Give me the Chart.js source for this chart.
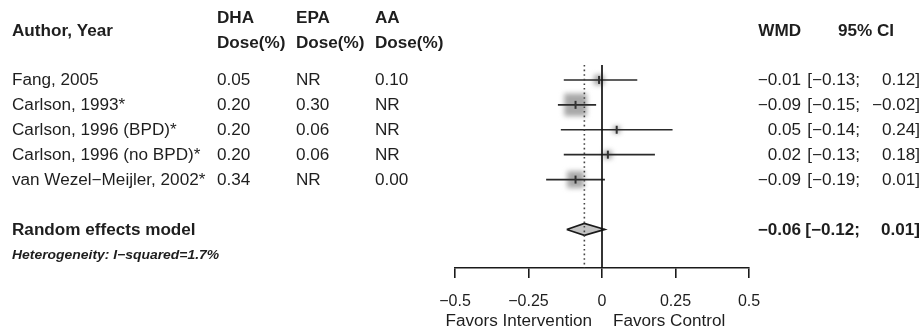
<!DOCTYPE html>
<html>
<head>
<meta charset="utf-8">
<script src="https://cdn.jsdelivr.net/npm/chart.js@4.4.1/dist/chart.umd.min.js"></script>
<style>
  html, body { margin: 0; padding: 0; background: #ffffff; }
  #wrap { width: 922px; height: 330px; position: relative; }
  canvas { display: block; }
</style>
</head>
<body>
<div id="wrap"><canvas id="forest" width="922" height="330"></canvas></div>
<script>
// Study rows
const studies = ['Fang, 2005', 'Carlson, 1993*', 'Carlson, 1996 (BPD)*', 'Carlson, 1996 (no BPD)*', 'van Wezel\u2212Meijler, 2002*'];
const dhaDose = ['0.05', '0.20', '0.20', '0.20', '0.34'];
const epaDose = ['NR', '0.30', '0.06', '0.06', 'NR'];
const aaDose  = ['0.10', 'NR', 'NR', 'NR', '0.00'];
const wmd     = [-0.01, -0.09, 0.05, 0.02, -0.09];
const ciLower = [-0.13, -0.15, -0.14, -0.13, -0.19];
const ciUpper = [0.12, -0.02, 0.24, 0.18, 0.01];
const weights = [10, 50, 5, 7, 28];

// Pooled estimate
const pooledLabel = 'Random effects model';
const pooledWmd = -0.06;
const pooledLower = -0.12;
const pooledUpper = 0.01;
const heterogeneityText = 'Heterogeneity: I\u2212squared=1.7%';

// Axis
const tickValues = [-0.5, -0.25, 0, 0.25, 0.5];
const tickLabels = ['\u22120.5', '\u22120.25', '0', '0.25', '0.5'];
const favorsLeft = 'Favors Intervention';
const favorsRight = 'Favors Control';

// Layout constants (row index units on the hidden y scale)
const POOLED_ROW = 6;
const HET_ROW = 7;
const Y_TOP = -0.6;
const Y_BOTTOM = 7.55;
const DIAMOND_HALF = 0.24;
const FONT = '"Liberation Sans", Arial, Helvetica, sans-serif';
const TEXT_COLOR = '#1e1e1e';
const STRETCH = 1.07;

const fmt = v => v.toFixed(2).replace('-', '\u2212');

// Datasets
const datasets = [];

// weighted squares
datasets.push({
  id: 'squares',
  data: wmd.map((v, i) => ({ x: v, y: i })),
  showLine: false,
  pointStyle: 'rect',
  pointRadius: weights.map(w => Math.sqrt(w) * 1.6 * Math.SQRT2),
  pointBackgroundColor: '#a8a8a8',
  pointBorderColor: '#a8a8a8',
  pointBorderWidth: 0,
  order: 10
});

// confidence interval segments
wmd.forEach((v, i) => {
  datasets.push({
    data: [{ x: ciLower[i], y: i }, { x: ciUpper[i], y: i }],
    showLine: true,
    borderColor: '#2a2a2a',
    borderWidth: 1.6,
    pointRadius: 0,
    order: 5
  });
});

// point estimate marks
datasets.push({
  data: wmd.map((v, i) => ({ x: v, y: i })),
  showLine: false,
  pointStyle: 'line',
  rotation: 90,
  pointRadius: 4,
  pointBorderColor: '#333333',
  pointBorderWidth: 2,
  order: 4
});

// pooled diamond
datasets.push({
  data: [
    { x: pooledLower, y: POOLED_ROW },
    { x: pooledWmd, y: POOLED_ROW - DIAMOND_HALF },
    { x: pooledUpper, y: POOLED_ROW },
    { x: pooledWmd, y: POOLED_ROW + DIAMOND_HALF },
    { x: pooledLower, y: POOLED_ROW }
  ],
  showLine: true,
  fill: 'shape',
  backgroundColor: '#c4c4c4',
  borderColor: '#1a1a1a',
  borderWidth: 1.6,
  pointRadius: 0,
  tension: 0,
  order: 3
});

// dotted pooled-estimate reference line
datasets.push({
  data: [{ x: pooledWmd, y: Y_TOP }, { x: pooledWmd, y: Y_BOTTOM }],
  showLine: true,
  borderColor: '#444444',
  borderWidth: 1.6,
  borderDash: [1.6, 3],
  pointRadius: 0,
  order: 2
});

// line of no effect (a single long dash keeps it on the general path renderer)
datasets.push({
  data: [{ x: 0, y: Y_TOP }, { x: 0, y: Y_BOTTOM }],
  showLine: true,
  borderColor: '#111111',
  borderWidth: 1.7,
  borderDash: [1000, 0],
  pointRadius: 0,
  order: 1
});

function drawText(ctx, str, x, y, align, font) {
  ctx.save();
  ctx.font = font;
  ctx.fillStyle = TEXT_COLOR;
  ctx.textBaseline = 'middle';
  ctx.textAlign = align;
  ctx.translate(x, y);
  ctx.scale(STRETCH, 1);
  ctx.fillText(str, 0, 0);
  ctx.restore();
}

const softSquares = {
  id: 'softSquares',
  beforeDatasetDraw(chart, args) {
    if (chart.data.datasets[args.index].id === 'squares') chart.ctx.filter = 'blur(2.6px)';
  },
  afterDatasetDraw(chart, args) {
    if (chart.data.datasets[args.index].id === 'squares') chart.ctx.filter = 'none';
  }
};

const tableText = {
  id: 'tableText',
  afterDraw(chart) {
    const ctx = chart.ctx;
    const ys = chart.scales.y;
    const xs = chart.scales.x;
    const reg = '16px ' + FONT;
    const bold = 'bold 16px ' + FONT;

    // headers
    drawText(ctx, 'Author, Year', 12, 32, 'left', bold);
    drawText(ctx, 'DHA', 217, 19, 'left', bold);
    drawText(ctx, 'EPA', 296, 19, 'left', bold);
    drawText(ctx, 'AA', 375, 19, 'left', bold);
    drawText(ctx, 'Dose(%)', 217, 44, 'left', bold);
    drawText(ctx, 'Dose(%)', 296, 44, 'left', bold);
    drawText(ctx, 'Dose(%)', 375, 44, 'left', bold);
    drawText(ctx, 'WMD', 801, 32, 'right', bold);
    drawText(ctx, '95% CI', 866, 32, 'center', bold);

    // study rows
    studies.forEach((s, i) => {
      const y = ys.getPixelForValue(i) + 1;
      drawText(ctx, s, 12, y, 'left', reg);
      drawText(ctx, dhaDose[i], 217, y, 'left', reg);
      drawText(ctx, epaDose[i], 296, y, 'left', reg);
      drawText(ctx, aaDose[i], 375, y, 'left', reg);
      drawText(ctx, fmt(wmd[i]), 801, y, 'right', reg);
      drawText(ctx, '[' + fmt(ciLower[i]) + ';', 860, y, 'right', reg);
      drawText(ctx, fmt(ciUpper[i]) + ']', 920, y, 'right', reg);
    });

    // pooled row
    const py = ys.getPixelForValue(POOLED_ROW) + 1;
    drawText(ctx, pooledLabel, 12, py, 'left', bold);
    drawText(ctx, fmt(pooledWmd), 801, py, 'right', bold);
    drawText(ctx, '[' + fmt(pooledLower) + ';', 860, py, 'right', bold);
    drawText(ctx, fmt(pooledUpper) + ']', 920, py, 'right', bold);

    // heterogeneity
    drawText(ctx, heterogeneityText, 12, ys.getPixelForValue(HET_ROW) + 1, 'left', 'italic bold 13px ' + FONT);

    // favours labels under the axis
    const zx = xs.getPixelForValue(0);
    drawText(ctx, favorsLeft, zx - 10, 322, 'right', reg);
    drawText(ctx, favorsRight, zx + 11, 322, 'left', reg);
  }
};

new Chart(document.getElementById('forest'), {
  type: 'scatter',
  data: { datasets },
  options: {
    responsive: false,
    devicePixelRatio: 1,
    animation: false,
    events: [],
    layout: { padding: { left: 455, right: 173, top: 65, bottom: 0 } },
    plugins: { legend: { display: false }, tooltip: { enabled: false } },
    elements: { line: { tension: 0 } },
    scales: {
      x: {
        type: 'linear',
        min: -0.5,
        max: 0.5,
        afterBuildTicks: scale => { scale.ticks = tickValues.map(v => ({ value: v })); },
        afterFit: scale => { scale.height = 62; },
        ticks: {
          autoSkip: false,
          maxRotation: 0,
          padding: 14,
          color: TEXT_COLOR,
          font: { family: FONT, size: 16 },
          callback: (v) => tickLabels[tickValues.indexOf(v)]
        },
        grid: {
          drawOnChartArea: false,
          drawTicks: true,
          tickLength: 10,
          color: '#1a1a1a',
          lineWidth: 1.6
        },
        border: { display: true, color: '#1a1a1a', width: 1.6 }
      },
      y: {
        type: 'linear',
        display: false,
        reverse: true,
        min: Y_TOP,
        max: Y_BOTTOM
      }
    }
  },
  plugins: [softSquares, tableText]
});
</script>
</body>
</html>
